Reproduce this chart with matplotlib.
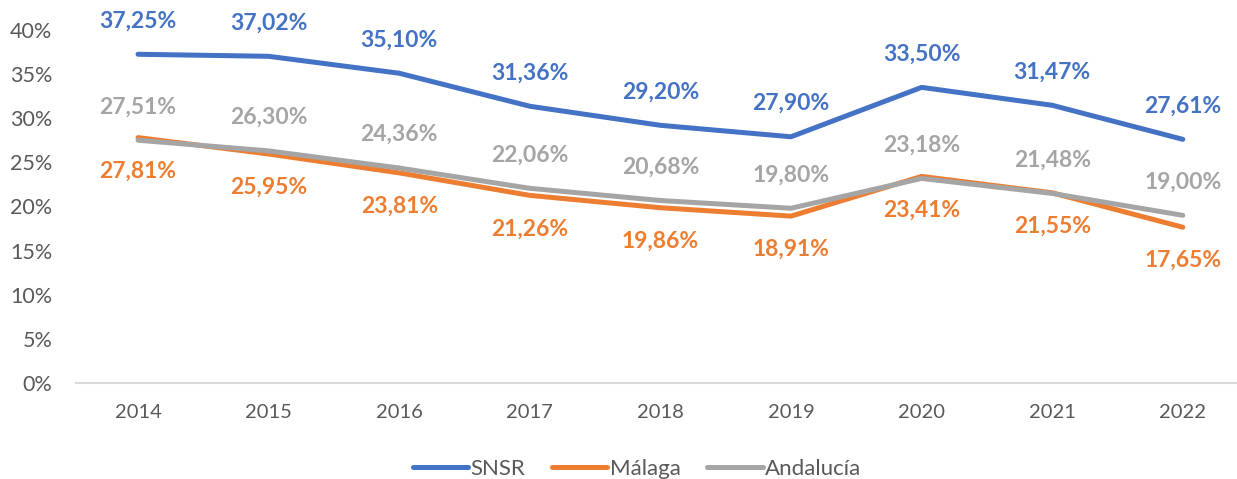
import matplotlib.pyplot as plt
import numpy as np

plt.rcParams['font.family'] = ['Lato', 'DejaVu Sans']

years = ['2014', '2015', '2016', '2017', '2018', '2019', '2020', '2021', '2022']
snsr = [37.25, 37.02, 35.10, 31.36, 29.20, 27.90, 33.50, 31.47, 27.61]
malaga = [27.81, 25.95, 23.81, 21.26, 19.86, 18.91, 23.41, 21.55, 17.65]
andalucia = [27.51, 26.30, 24.36, 22.06, 20.68, 19.80, 23.18, 21.48, 19.00]
y_ticks = [0, 5, 10, 15, 20, 25, 30, 35, 40]

series = [
    ('SNSR', snsr, '#4472C4', 24),
    ('Málaga', malaga, '#ED7D31', -24),
    ('Andalucía', andalucia, '#A5A5A5', 24),
]

W, H = 1237, 479
fig = plt.figure(figsize=(W / 100, H / 100), dpi=100)
ax = fig.add_axes([76 / W, (H - 383) / H, (W - 76) / W, (383 - 30) / H])

x = np.arange(len(years))
for name, vals, color, dy in series:
    ax.plot(x, vals, color=color, lw=3.6, solid_capstyle='round', label=name)
    for xi, v in zip(x, vals):
        txt = f'{v:.2f}%'.replace('.', ',')
        ax.annotate(txt, (xi, v), xytext=(0, dy), textcoords='offset points',
                    ha='center', va='center', fontsize=16.5, fontweight='bold',
                    color=color, annotation_clip=False)

ax.set_xlim(-0.475, 8.415)
ax.set_ylim(0, 40)
ax.set_xticks(x)
ax.set_xticklabels(years)
ax.set_yticks(y_ticks)
ax.set_yticklabels([f'{t}%' for t in y_ticks])
ax.tick_params(length=0, labelcolor='#595959')
ax.tick_params(axis='x', pad=15, labelsize=14.5)
ax.tick_params(axis='y', pad=17, labelsize=15.5)
for side in ['top', 'right', 'left']:
    ax.spines[side].set_visible(False)
ax.spines['bottom'].set_color('#D9D9D9')
ax.spines['bottom'].set_linewidth(1.5)

# legend sits a bit right of centre in the original
fig.legend(loc='center', bbox_to_anchor=(637 / W, 1 - 469 / H), ncol=3, frameon=False,
           fontsize=16, handlelength=2.5, handletextpad=0.1, columnspacing=1.2,
           labelcolor='#595959')

fig.savefig('out.png', dpi=100)
